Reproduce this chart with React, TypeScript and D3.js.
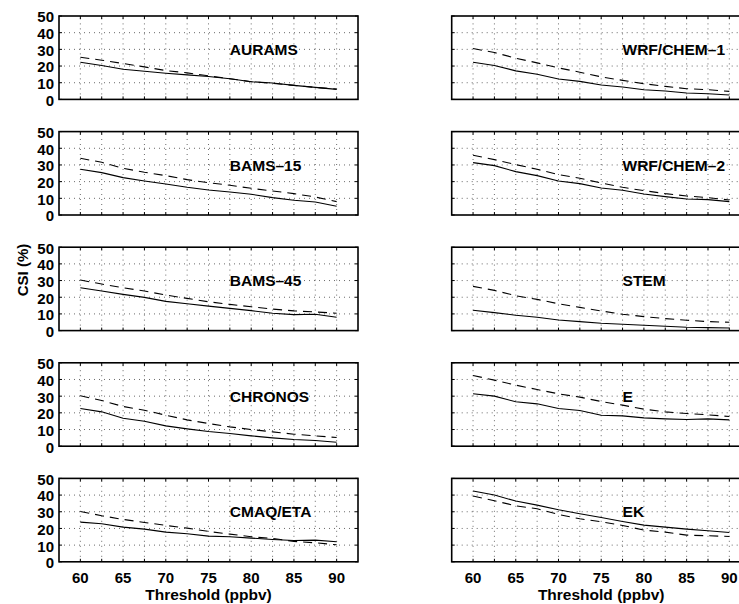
import React, { useRef, useEffect } from "react";
import * as d3 from "d3";

// thresholds (ppbv) where CSI was computed
const thresholds = [60, 62.5, 65, 67.5, 70, 72.5, 75, 77.5, 80, 82.5, 85, 87.5, 90];
const xTickLabels = [60, 65, 70, 75, 80, 85, 90];
const yTicks = [0, 10, 20, 30, 40, 50];

const leftModels = ["AURAMS", "BAMS–15", "BAMS–45", "CHRONOS", "CMAQ/ETA"];
const rightModels = ["WRF/CHEM–1", "WRF/CHEM–2", "STEM", "E", "EK"];

// solid = CSI, dashed = second curve
const auramsSolid = [22.3, 20.3, 18.1, 16.9, 15.7, 14.7, 13.7, 12.4, 10.6, 9.8, 8.4, 7.2, 6.0];
const auramsDashed = [25.3, 23.5, 21.5, 19.5, 17.3, 15.9, 14.1, 12.4, 10.6, 9.6, 8.4, 7.2, 6.2];
const bams15Solid = [27.4, 25.4, 22.4, 20.4, 18.6, 16.6, 15.0, 13.8, 12.4, 10.4, 8.8, 7.8, 5.2];
const bams15Dashed = [34.0, 31.6, 28.0, 25.6, 23.6, 21.2, 19.4, 17.8, 16.0, 14.4, 12.8, 10.8, 8.0];
const bams45Solid = [25.7, 23.7, 21.7, 19.9, 17.5, 16.1, 14.7, 13.3, 12.0, 10.4, 9.6, 9.8, 8.0];
const bams45Dashed = [30.3, 27.9, 25.7, 23.7, 21.3, 19.3, 17.3, 15.7, 14.3, 12.9, 11.8, 11.2, 10.4];
const chronosSolid = [22.6, 20.6, 16.8, 15.0, 12.2, 10.4, 8.8, 7.6, 6.2, 5.0, 4.0, 3.4, 2.4];
const chronosDashed = [30.2, 27.4, 23.8, 21.6, 18.6, 15.8, 13.6, 11.6, 10.0, 8.6, 7.2, 6.2, 5.2];
const cmaqSolid = [23.8, 22.8, 20.8, 19.6, 17.8, 16.8, 15.4, 15.0, 14.2, 13.4, 12.8, 13.0, 12.0];
const cmaqDashed = [30.2, 27.6, 25.4, 23.6, 21.8, 20.2, 18.2, 16.6, 15.0, 14.0, 12.2, 11.4, 10.2];
const wrf1Solid = [22.3, 20.3, 17.1, 15.1, 12.2, 10.8, 8.6, 7.4, 5.8, 5.0, 3.8, 3.4, 2.6];
const wrf1Dashed = [30.5, 28.1, 24.7, 21.9, 18.9, 16.3, 13.5, 11.4, 9.4, 7.8, 6.4, 5.8, 4.8];
const wrf2Solid = [31.4, 29.6, 26.0, 23.6, 20.4, 18.8, 16.2, 14.8, 12.6, 11.0, 9.6, 9.2, 8.0];
const wrf2Dashed = [35.8, 33.2, 30.2, 27.4, 24.2, 22.0, 19.2, 16.6, 14.6, 12.8, 11.4, 10.4, 9.0];
const stemSolid = [12.2, 10.8, 9.2, 8.0, 6.4, 5.4, 4.4, 3.8, 3.2, 2.6, 2.0, 1.8, 1.6];
const stemDashed = [26.5, 24.1, 20.9, 18.7, 16.1, 13.9, 11.8, 9.8, 8.4, 7.2, 6.2, 5.4, 5.0];
const eSolid = [31.4, 30.0, 26.6, 25.4, 22.6, 21.4, 18.6, 18.2, 17.0, 16.4, 16.0, 16.4, 15.8];
const eDashed = [42.4, 39.6, 36.6, 34.0, 31.4, 29.4, 26.8, 24.6, 22.2, 20.6, 19.6, 18.8, 17.8];
const ekSolid = [42.4, 40.0, 36.4, 34.0, 31.2, 28.8, 26.6, 24.2, 22.0, 20.8, 19.6, 18.6, 17.6];
const ekDashed = [39.4, 36.6, 33.6, 31.8, 28.4, 25.8, 24.0, 21.8, 19.0, 17.8, 16.0, 15.6, 15.2];

const leftSolid = [auramsSolid, bams15Solid, bams45Solid, chronosSolid, cmaqSolid];
const leftDashed = [auramsDashed, bams15Dashed, bams45Dashed, chronosDashed, cmaqDashed];
const rightSolid = [wrf1Solid, wrf2Solid, stemSolid, eSolid, ekSolid];
const rightDashed = [wrf1Dashed, wrf2Dashed, stemDashed, eDashed, ekDashed];

const App = () => {
  const svgRef = useRef(null);

  useEffect(() => {
    const width = 739, height = 604;
    const font = "'Liberation Sans', Arial, Helvetica, sans-serif";
    const svg = d3.select(svgRef.current)
      .attr("width", width)
      .attr("height", height)
      .style("background", "#fff");
    svg.selectAll("*").remove();

    const colLeft = [59, 451.7];
    const panelW = 299;
    const rowTop = 16, rowStep = 115.6, panelH = 83.4;

    const columns = [
      { names: leftModels, solid: leftSolid, dashed: leftDashed },
      { names: rightModels, solid: rightSolid, dashed: rightDashed }
    ];

    columns.forEach((col, c) => {
      const x = d3.scaleLinear().domain([57.5, 92.5]).range([colLeft[c], colLeft[c] + panelW]);

      col.names.forEach((name, r) => {
        const top = rowTop + r * rowStep;
        const y = d3.scaleLinear().domain([0, 50]).range([top + panelH, top]);
        const g = svg.append("g");

        // dotted grid
        g.selectAll(".vgrid")
          .data(thresholds)
          .enter()
          .append("line")
          .attr("x1", d => x(d)).attr("x2", d => x(d))
          .attr("y1", y(0)).attr("y2", y(50))
          .attr("stroke", "#444")
          .attr("stroke-width", 0.8)
          .attr("stroke-dasharray", "1,4");
        g.selectAll(".hgrid")
          .data([10, 20, 30, 40])
          .enter()
          .append("line")
          .attr("x1", x(57.5)).attr("x2", x(92.5))
          .attr("y1", d => y(d)).attr("y2", d => y(d))
          .attr("stroke", "#444")
          .attr("stroke-width", 0.8)
          .attr("stroke-dasharray", "1,4");

        // inward ticks
        thresholds.forEach(t => {
          g.append("line").attr("x1", x(t)).attr("x2", x(t))
            .attr("y1", y(0)).attr("y2", y(0) - 3).attr("stroke", "#000");
          g.append("line").attr("x1", x(t)).attr("x2", x(t))
            .attr("y1", y(50)).attr("y2", y(50) + 3).attr("stroke", "#000");
        });
        yTicks.forEach(t => {
          g.append("line").attr("x1", x(57.5)).attr("x2", x(57.5) + 3)
            .attr("y1", y(t)).attr("y2", y(t)).attr("stroke", "#000");
          g.append("line").attr("x1", x(92.5)).attr("x2", x(92.5) - 3)
            .attr("y1", y(t)).attr("y2", y(t)).attr("stroke", "#000");
        });

        const line = d3.line<number>()
          .x((_, i) => x(thresholds[i]))
          .y(d => y(d));

        g.append("path")
          .attr("d", line(col.dashed[r]))
          .attr("fill", "none")
          .attr("stroke", "#000")
          .attr("stroke-width", 1.1)
          .attr("stroke-dasharray", "9,6");
        g.append("path")
          .attr("d", line(col.solid[r]))
          .attr("fill", "none")
          .attr("stroke", "#000")
          .attr("stroke-width", 1.1);

        // box
        g.append("rect")
          .attr("x", x(57.5)).attr("y", y(50))
          .attr("width", panelW).attr("height", panelH)
          .attr("fill", "none")
          .attr("stroke", "#000")
          .attr("stroke-width", 1.6);

        // panel label
        g.append("text")
          .attr("x", x(77.5))
          .attr("y", y(30))
          .attr("dy", "0.36em")
          .style("font-family", font)
          .style("font-weight", "bold")
          .style("font-size", "15.5px")
          .text(name);

        // y tick labels (left column only)
        if (c === 0) {
          g.selectAll(".ylab")
            .data(yTicks)
            .enter()
            .append("text")
            .attr("x", x(57.5) - 5)
            .attr("y", d => y(d) + 1)
            .attr("dy", "0.36em")
            .style("text-anchor", "end")
            .style("font-family", font)
            .style("font-weight", "bold")
            .style("font-size", "15px")
            .text(d => d);
        }

        // x tick labels on bottom row
        if (r === col.names.length - 1) {
          g.selectAll(".xlab")
            .data(xTickLabels)
            .enter()
            .append("text")
            .attr("x", d => x(d))
            .attr("y", y(0) + 21)
            .style("text-anchor", "middle")
            .style("font-family", font)
            .style("font-weight", "bold")
            .style("font-size", "15px")
            .text(d => d);
          g.append("text")
            .attr("x", colLeft[c] + panelW / 2)
            .attr("y", y(0) + 38)
            .style("text-anchor", "middle")
            .style("font-family", font)
            .style("font-weight", "bold")
            .style("font-size", "15.5px")
            .text("Threshold (ppbv)");
        }
      });
    });

    // Y-axis label
    svg.append("text")
      .attr("transform", "rotate(-90)")
      .attr("x", -270)
      .attr("y", 28)
      .style("text-anchor", "middle")
      .style("font-family", font)
      .style("font-weight", "bold")
      .style("font-size", "15px")
      .text("CSI (%)");
  }, []);

  return (
    <div style={{ position: "absolute", left: 0, top: 0 }}>
      <svg ref={svgRef} style={{ display: "block" }}></svg>
    </div>
  );
};

export default App;
